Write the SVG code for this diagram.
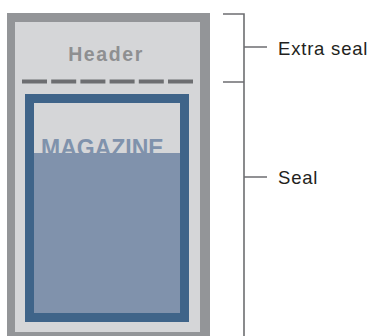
<svg xmlns="http://www.w3.org/2000/svg" width="372" height="336" viewBox="0 0 372 336">
<style>
.br{stroke:#6d6e71;stroke-width:1.6;fill:none}
.lbl{font-family:"Liberation Sans",Arial,sans-serif;font-size:18.5px;fill:#231f20;letter-spacing:0.8px}
</style>
<rect width="372" height="336" fill="#ffffff"/>
<g id="package">
<rect x="7" y="13" width="203" height="335" fill="#939598"/>
<rect x="15" y="22" width="185" height="310" fill="#d5d6d8"/>
</g>
<g id="header">
<text x="106" y="61" text-anchor="middle" font-family="'Liberation Sans',Arial,sans-serif" font-weight="bold" font-size="19.5" letter-spacing="1.6" fill="#8e8f91">Header</text>
<line x1="22" y1="81.5" x2="193" y2="81.5" stroke="#6d6e71" stroke-width="4" stroke-dasharray="25,4.2"/>
</g>
<g id="magazine">
<rect x="25" y="94" width="164" height="228" fill="#3f6489"/>
<rect x="34" y="103" width="146" height="210" fill="#d5d6d8"/>
<text x="41" y="156" font-family="'Liberation Sans',Arial,sans-serif" font-weight="bold" font-size="23" fill="#7f92ac">MAGAZINE</text>
<rect x="34" y="153" width="146" height="160" fill="#8092ac"/>
</g>
<g id="connectors">
<path class="br" d="M223 14 H244 V336 M223 82 H244 M244 47 H267 M244 177 H267"/>
</g>
<g id="labels">
<text class="lbl" x="278" y="55">Extra seal</text>
<text class="lbl" x="278" y="184">Seal</text>
</g>
</svg>
